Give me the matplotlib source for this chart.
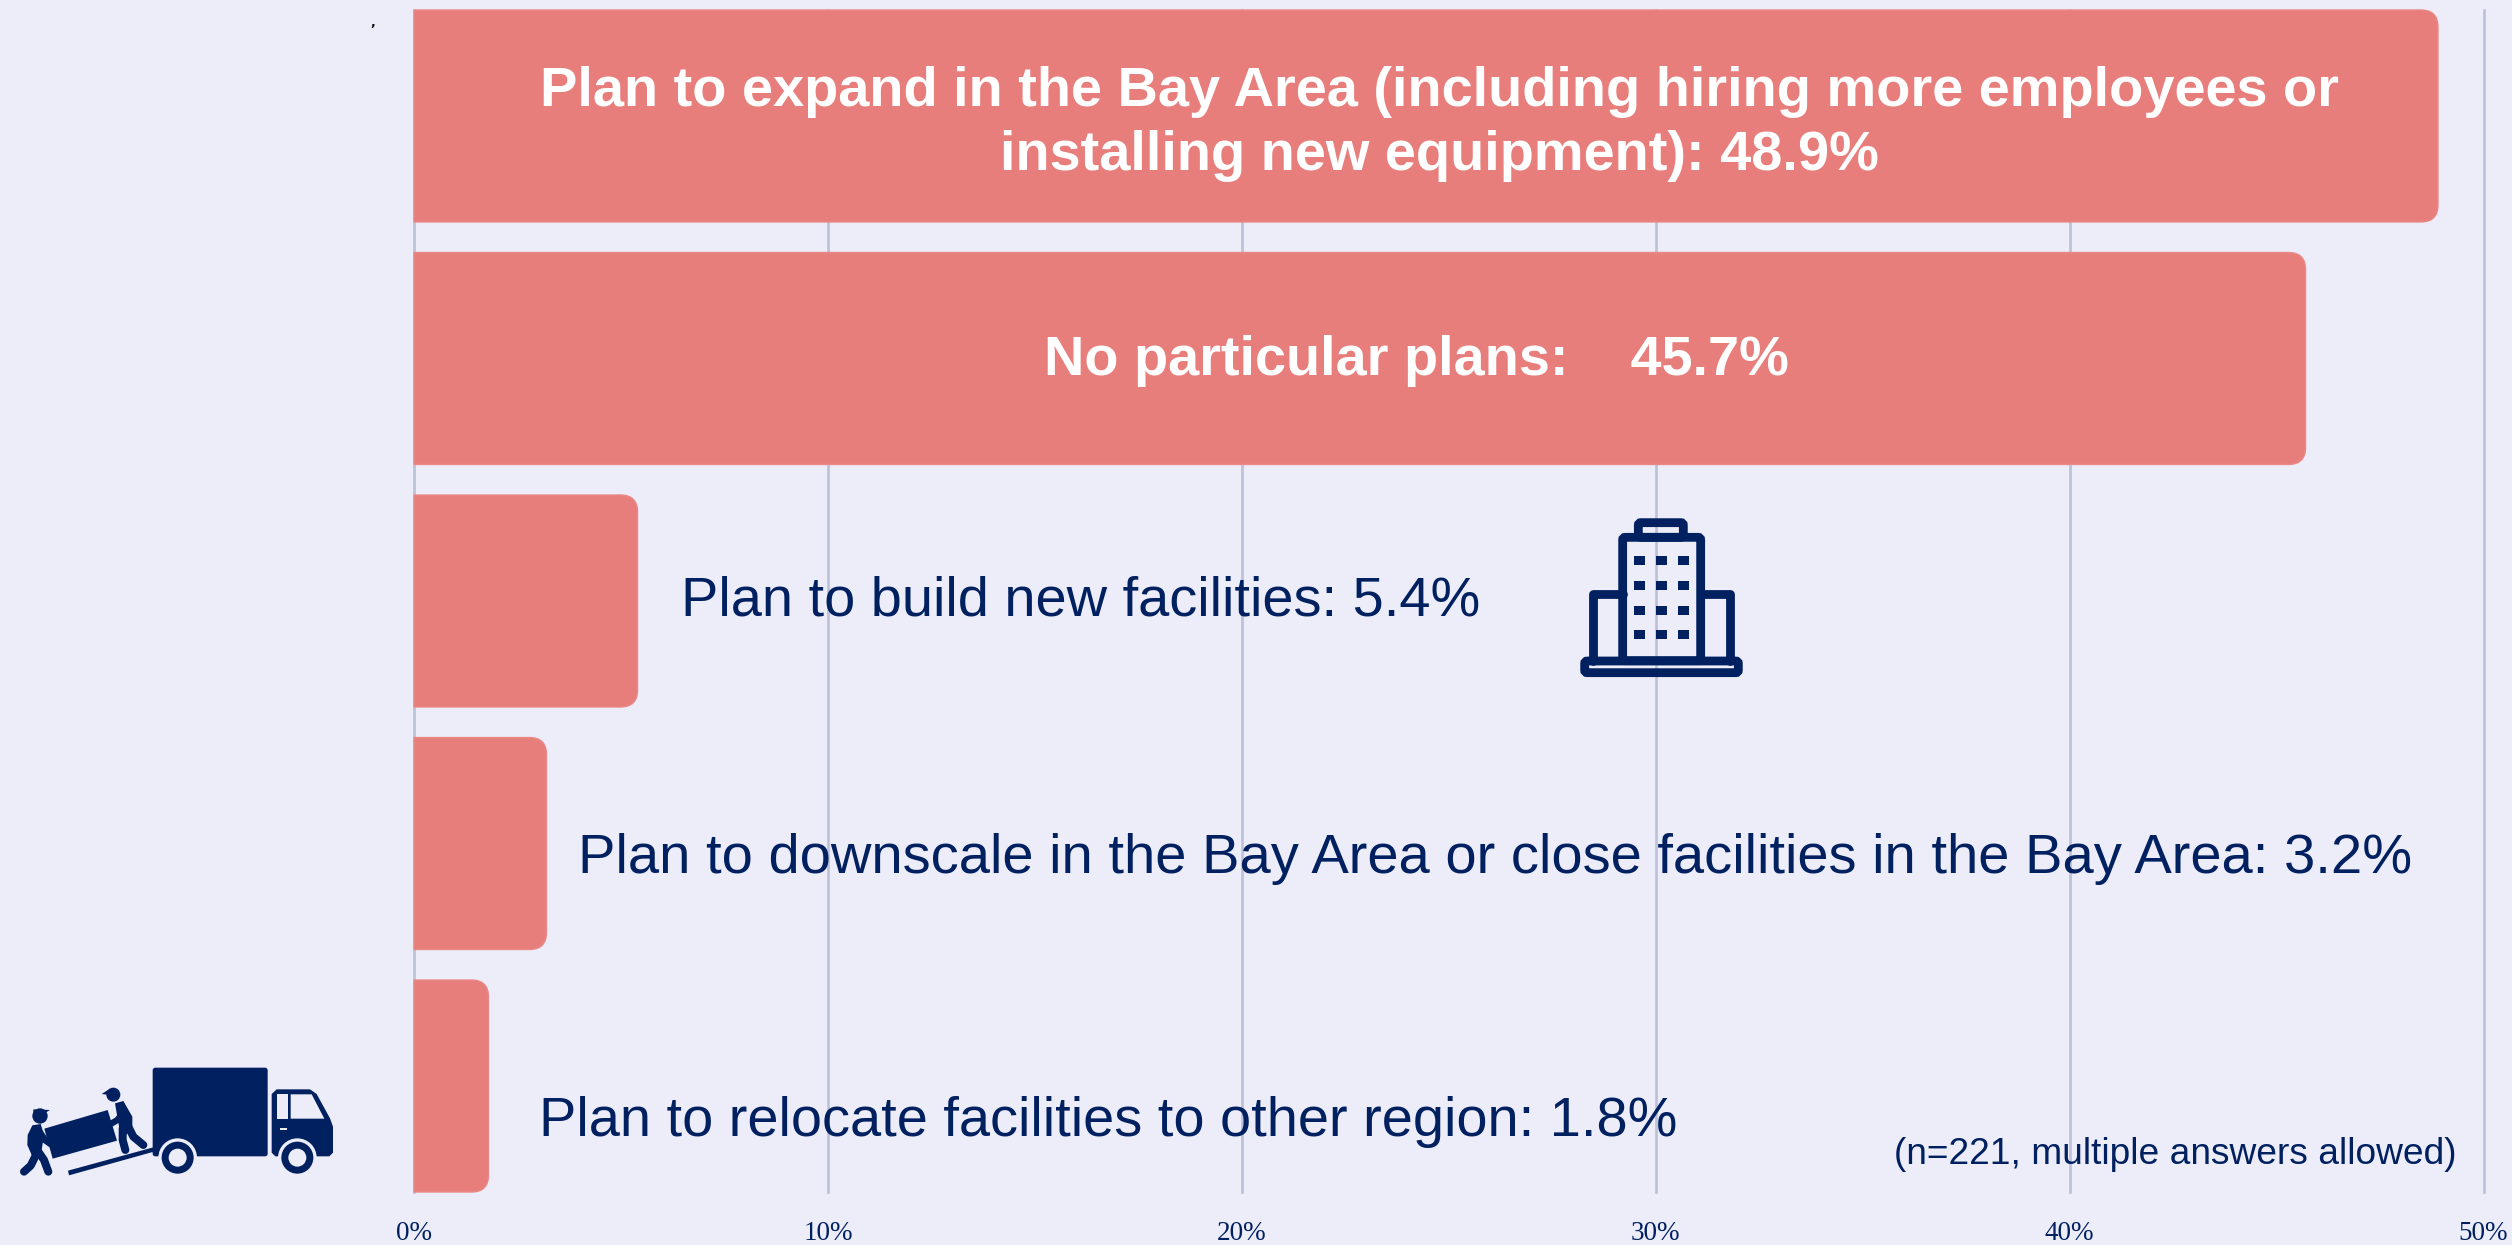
import matplotlib
matplotlib.use("Agg")
import matplotlib.pyplot as plt
from matplotlib.path import Path
from matplotlib.patches import PathPatch, Polygon, Circle, Rectangle, FancyBboxPatch
from matplotlib.lines import Line2D
from matplotlib.transforms import Affine2D

W, H = 2512, 1245
BG, BAR, NAVY, GRID = "#EDEDF9", "#E87E7B", "#002060", "#BAC1D9"

categories = [
    "Plan to expand in the Bay Area (including hiring more employees or\ninstalling new equipment)",
    "No particular plans:   ",
    "Plan to build new facilities",
    "Plan to downscale in the Bay Area or close facilities in the Bay Area",
    "Plan to relocate facilities to other region",
]
values = [48.9, 45.7, 5.4, 3.2, 1.8]
xticks = [0, 10, 20, 30, 40, 50]
xticklabels = ["0%", "10%", "20%", "30%", "40%", "50%"]
note = "(n=221, multiple answers allowed)"

fig = plt.figure(figsize=(W / 100, H / 100), dpi=100, facecolor=BG)
x0, x1, y_top, y_bot = 414, 2483.5, 10, 1192
ax = fig.add_axes([x0 / W, 1 - y_bot / H, (x1 - x0) / W, (y_bot - y_top) / H], facecolor=BG)
bh = 0.874
ax.set_xlim(0, 50)
ax.set_ylim(4 + bh / 2, -bh / 2)
ax.set_xticks(xticks)
ax.set_xticklabels(xticklabels, family="Liberation Serif", fontsize=19.5, color=NAVY)
ax.set_yticks([])
ax.tick_params(axis="x", length=0, pad=21)
ax.grid(axis="x", color=GRID, lw=1.9, zorder=1)
ax.set_axisbelow(True)
for gl in ax.get_xgridlines():
    gl.set_clip_on(False)
for s in ax.spines.values():
    s.set_visible(False)

# bars with rounded right-hand corners
rx, ry = 17 / 41.4, 17 / 242.5
for i, v in enumerate(values):
    t, b = i - bh / 2, i + bh / 2
    verts = [(0, t), (v - rx, t), (v, t), (v, t + ry), (v, b - ry), (v, b), (v - rx, b), (0, b), (0, t)]
    codes = [Path.MOVETO, Path.LINETO, Path.CURVE3, Path.CURVE3, Path.LINETO, Path.CURVE3, Path.CURVE3,
             Path.LINETO, Path.CLOSEPOLY]
    ax.add_patch(PathPatch(Path(verts, codes), facecolor=BAR, edgecolor="#E98886", lw=1.0, zorder=2,
                           clip_on=False))


def txt(px, py, s, **kw):
    fig.text(px / W, 1 - py / H, s, family="Liberation Sans", va="center", zorder=10, **kw)


fs = 40.3
txt(1439, 124, f"{categories[0]}: {values[0]}%", ha="center", color="white", fontsize=fs,
    fontweight="bold", linespacing=1.32)
txt(1416, 361, f"{categories[1]} {values[1]}%", ha="center", color="white", fontsize=40.2, fontweight="bold")
txt(681, 601, f"{categories[2]}: {values[2]}%", ha="left", color=NAVY, fontsize=fs)
txt(578, 859, f"{categories[3]}: {values[3]}%", ha="left", color=NAVY, fontsize=40.4)
txt(539, 1122, f"{categories[4]}: {values[4]}%", ha="left", color=NAVY, fontsize=fs)
txt(2456, 1155, note, ha="right", color=NAVY, fontsize=26.7)
fig.text(373 / W, 1 - 22 / H, ",", color="#111111", fontsize=9, ha="center", va="center", fontweight="bold")

# pictograms, in zoomed crop coordinates
def tf(ox, oy):
    return Affine2D().scale(1 / 3, -1 / 3).translate(ox, H - oy)


def add(p):
    p.set_zorder(8)
    p.set_clip_on(False)
    fig.add_artist(p)


def poly(t, pts, color=NAVY):
    p = Polygon(pts, closed=True, facecolor=color, edgecolor="none")
    p.set_transform(t)
    add(p)


def rrect(t, x, y, w, h, r, fc=NAVY, ec="none", lw=0):
    p = FancyBboxPatch((x + r, y + r), w - 2 * r, h - 2 * r, boxstyle=f"round,pad={r},rounding_size={r}",
                       facecolor=fc, edgecolor=ec, linewidth=lw)
    p.set_transform(t)
    add(p)


def circ(t, x, y, r, color):
    p = Circle((x, y), r, facecolor=color, edgecolor="none")
    p.set_transform(t)
    add(p)


def stroke(t, xs, ys, w):
    l = Line2D(xs, ys, color=NAVY, lw=w / 3 * 0.72, solid_capstyle="round", solid_joinstyle="round")
    l.set_transform(t)
    l.set_zorder(8)
    fig.add_artist(l)


# building; the 30% gridline shows through it
b = tf(1540, 500)
lw = 8.8 * 0.72
rrect(b, 295, 68, 135, 44, 8, fc="none", ec=NAVY, lw=lw)
stroke(b, [248, 158, 158], [281, 281, 483], 26.4)
stroke(b, [482, 571, 571], [281, 281, 483], 26.4)
rrect(b, 248, 112, 234, 370, 8, fc="none", ec=NAVY, lw=lw)
rrect(b, 134, 483, 461, 35, 8, fc="none", ec=NAVY, lw=lw)
for wy in (168, 243, 318, 390):
    for wx in (282, 348, 414):
        r = Rectangle((wx, wy), 33, 27, facecolor=NAVY, edgecolor="none")
        r.set_transform(b)
        add(r)

# truck and movers
k = tf(0, 1020)
rrect(k, 458, 143, 345, 266, 8)
poly(k, [(830, 208), (930, 208), (950, 222), (990, 295), (999, 320), (999, 398), (988, 409),
         (826, 409), (815, 398), (815, 222)])
poly(k, [(830, 223), (864, 223), (864, 296), (830, 296)], BG)
poly(k, [(872, 223), (935, 223), (973, 296), (872, 296)], BG)
poly(k, [(840, 323), (861, 323), (861, 331), (840, 331)], BG)
for cx in (533, 892):
    circ(k, cx, 413, 58, BG)
    circ(k, cx, 413, 48, NAVY)
    circ(k, cx, 413, 27, BG)
poly(k, [(204, 452), (460, 382), (478, 400), (462, 408), (458, 396), (207, 466)])
poly(k, [(133, 326), (323, 270), (351, 362), (158, 416)])
# left mover
circ(k, 120, 288, 23, NAVY)
poly(k, [(100, 268), (150, 270), (130, 282), (100, 286)])
poly(k, [(97, 316), (122, 312), (132, 345), (125, 390), (95, 405), (82, 375), (83, 345)])
stroke(k, [118, 135, 152], [335, 360, 372], 20)
stroke(k, [105, 108, 92, 72], [380, 405, 437, 455], 24)
stroke(k, [108, 132, 145], [385, 420, 455], 24)
# right mover
circ(k, 340, 224, 21, NAVY)
poly(k, [(305, 222), (330, 206), (338, 226)])
poly(k, [(345, 250), (370, 243), (397, 290), (397, 325), (378, 345), (358, 325)])
stroke(k, [368, 352, 332], [280, 300, 312], 19)
stroke(k, [368, 368, 376], [325, 360, 390], 24)
stroke(k, [385, 400, 430], [320, 350, 375], 24)

fig.savefig("out.png", dpi=100, facecolor=BG)
